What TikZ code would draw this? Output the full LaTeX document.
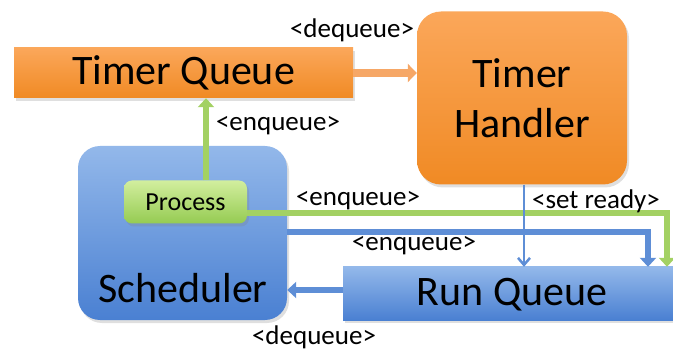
\documentclass[tikz,border=0pt]{standalone}
\usepackage{fontspec}
\setmainfont{Carlito}
\usetikzlibrary{arrows.meta,shadows}
\definecolor{orT}{HTML}{FBA75A}
\definecolor{orB}{HTML}{F08A24}
\definecolor{blT}{HTML}{93B8EA}
\definecolor{blB}{HTML}{4A80D2}
\definecolor{grT}{HTML}{D2EE9E}
\definecolor{grB}{HTML}{95CB52}
\definecolor{orA}{HTML}{F6A766}
\definecolor{grA}{HTML}{A3D163}
\definecolor{blA}{HTML}{5E8ED6}
\begin{document}
\begin{tikzpicture}[x=1pt,y=-1pt,
  big/.style={font=\fontsize{42}{50}\selectfont},
  lbl/.style={font=\fontsize{27}{30}\selectfont},
  shad/.style={drop shadow={shadow xshift=2pt,shadow yshift=-3pt,opacity=0.25}},
  orbox/.style={shad,top color=orT,bottom color=orB,draw=none,inner sep=0pt},
  blbox/.style={shad,top color=blT,bottom color=blB,draw=none,inner sep=0pt},
  grbox/.style={shad,top color=grT,bottom color=grB,draw=none,inner sep=0pt,rounded corners=8pt},
  orarrow/.style={draw=orA,line width=8pt,-{Triangle[width=18pt,length=9pt]}},
  grarrow/.style={draw=grA,line width=6pt,-{Triangle[width=16pt,length=9pt]}},
  blarrow/.style={draw=blA,line width=6pt,-{Triangle[width=16pt,length=9pt]}},
  thinarrow/.style={draw=blA,line width=2.5pt,-{Straight Barb[width=12pt,length=7pt,line width=2.5pt]}}
]
\useasboundingbox (0,0) rectangle (673,350);
\clip (0,0) rectangle (673,350);
% boxes
\node[orbox,minimum width=339pt,minimum height=50pt,big] (tq) at (183.5,73) {Timer Queue};
\node[orbox,rounded corners=24pt,minimum width=210pt,minimum height=173pt,big,align=center] (th) at (522,98) {Timer\\Handler};
\node[blbox,rounded corners=22pt,minimum width=209pt,minimum height=174pt] (sch) at (182.5,233) {};
\node[big] (schtxt) at (183,288) {Scheduler};
\node[blbox,minimum width=340pt,minimum height=53pt] (rq) at (513,293.5) {};
\node[big] (rqtxt) at (512,295) {Run Queue};
\node[grbox,minimum width=123pt,minimum height=43pt,font=\fontsize{26}{28}\selectfont] (proc) at (185.5,202) {Process};
% corner coordinates
\coordinate (gc) at (667,213);
\coordinate (bc) at (648,232);
% connectors
\draw[orarrow] (tq.east) -- (th.west |- tq.east);
\draw[grarrow] (proc.north -| 206,0) -- (tq.south -| 206,0);
\draw[grarrow,line join=miter] (proc.east |- gc) -- (gc) -- (gc |- rq.north);
\draw[blarrow,line join=miter] (sch.east |- bc) -- (bc) -- (bc |- rq.north);
\draw[blarrow] (rq.west |- 0,290) -- (sch.east |- 0,290);
\draw[thinarrow] (th.south -| 524,0) -- (rq.north -| 524,0);
% labels
\node[lbl] (l1) at (352,30) {<dequeue>};
\node[lbl] (l2) at (278,126) {<enqueue>};
\node[lbl] (l3) at (358,201) {<enqueue>};
\node[lbl] (l4) at (596,201) {<set ready>};
\node[lbl] (l5) at (414,246) {<enqueue>};
\node[lbl] (l6) at (314,337) {<dequeue>};
\end{tikzpicture}
\end{document}
